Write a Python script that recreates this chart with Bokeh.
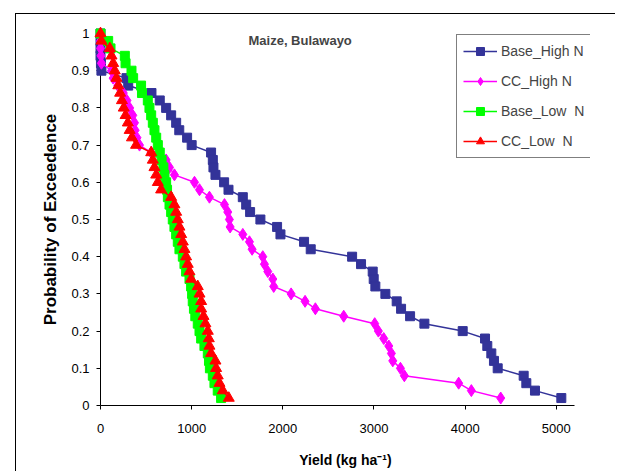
from bokeh.plotting import figure
from bokeh.models import FixedTicker, Legend, LegendItem, Label, Range1d
from bokeh.embed import file_html
from bokeh.resources import INLINE

# ---- data ----
prob = [1.00, 0.98, 0.96, 0.94, 0.92, 0.90, 0.88, 0.86, 0.84, 0.82,
        0.80, 0.78, 0.76, 0.74, 0.72, 0.70, 0.68, 0.66, 0.64, 0.62,
        0.60, 0.58, 0.56, 0.54, 0.52, 0.50, 0.48, 0.46, 0.44, 0.42,
        0.40, 0.38, 0.36, 0.34, 0.32, 0.30, 0.28, 0.26, 0.24, 0.22,
        0.20, 0.18, 0.16, 0.14, 0.12, 0.10, 0.08, 0.06, 0.04, 0.02]

base_high_n = [0, 0, 0, 0, 5, 10, 285, 304, 559, 650,
               720, 775, 830, 864, 950, 1000, 1213, 1232, 1239, 1261,
               1356, 1404, 1561, 1598, 1641, 1754, 1937, 1974, 2233, 2306,
               2760, 2858, 2986, 2997, 3015, 3125, 3249, 3297, 3396, 3553,
               3973, 4218, 4243, 4287, 4316, 4357, 4642, 4671, 4766, 5055]

cc_high_n = [0, 0, 0, 5, 10, 121, 139, 190, 250, 290,
             320, 354, 373, 380, 400, 428, 556, 720, 757, 811,
             1031, 1086, 1195, 1360, 1396, 1414, 1422, 1561, 1634, 1663,
             1780, 1798, 1835, 1890, 1900, 2091, 2244, 2357, 2668, 3008,
             3048, 3107, 3162, 3191, 3206, 3290, 3333, 3929, 4068, 4390]

base_low_n = [0, 84, 110, 267, 275, 340, 358, 445, 455, 519,
              537, 556, 574, 592, 611, 629, 650, 670, 690, 702,
              720, 730, 739, 757, 775, 793, 811, 830, 848, 866,
              903, 921, 939, 976, 994, 1005, 1012, 1025, 1040, 1067,
              1086, 1104, 1140, 1177, 1190, 1200, 1232, 1250, 1286, 1323]

cc_low_n = [0, 10, 102, 121, 139, 157, 175, 195, 215, 235,
            255, 275, 300, 320, 345, 390, 556, 574, 592, 611,
            629, 665, 775, 811, 830, 848, 866, 885, 903, 921,
            939, 957, 976, 994, 1067, 1086, 1104, 1104, 1130, 1151,
            1177, 1188, 1195, 1213, 1261, 1268, 1286, 1305, 1341, 1407]

series_names = ["Base_High N", "CC_High N", "Base_Low  N", "CC_Low  N"]
series_values = [base_high_n, cc_high_n, base_low_n, cc_low_n]
series_colors = ["#333399", "#FF00FF", "#00FF00", "#FF0000"]
series_markers = ["square", "diamond", "square", "triangle"]
series_sizes = [9, 12, 9, 11]

x_ticks = [0, 1000, 2000, 3000, 4000, 5000]
x_tick_labels = ["0", "1000", "2000", "3000", "4000", "5000"]
y_ticks = [0, 0.1, 0.2, 0.3, 0.4, 0.5, 0.6, 0.7, 0.8, 0.9, 1.0]
y_tick_labels = ["0", "0.1", "0.2", "0.3", "0.4", "0.5", "0.6", "0.7", "0.8", "0.9", "1"]

title_text = "Maize, Bulawayo"
x_label = "Yield (kg ha\u207b\u00b9)"
y_label = "Probability of Exceedence"

FONT = "Liberation Sans"

p = figure(width=600, height=458, output_backend="svg", toolbar_location=None,
           x_range=Range1d(0, 5375), y_range=Range1d(0, 1),
           min_border_left=84, min_border_top=19, min_border_bottom=67,
           min_border_right=26)
# chart-area border (left and top edges visible in the reference)
p.styles = {"margin-left": "15px", "margin-top": "13px",
            "border-left": "1px solid black", "border-top": "1px solid black"}
p.outline_line_color = None
p.grid.visible = False
p.background_fill_color = "white"
p.border_fill_color = "white"

for ax in (p.xaxis[0], p.yaxis[0]):
    ax.axis_line_color = "black"
    ax.axis_line_width = 1
    ax.major_tick_line_color = "black"
    ax.minor_tick_line_color = None
    ax.major_tick_in = 0
    ax.major_tick_out = 4
    ax.major_label_text_font = FONT
    ax.major_label_text_font_size = "13px"
    ax.major_label_text_color = "black"
    ax.axis_label_text_font = FONT
    ax.axis_label_text_font_style = "bold"
    ax.axis_label_text_color = "black"

p.xaxis[0].bounds = (0, 5200)
p.xaxis[0].ticker = FixedTicker(ticks=x_ticks)
p.xaxis[0].major_label_overrides = {t: l for t, l in zip(x_ticks, x_tick_labels)}
p.xaxis[0].axis_label = x_label
p.xaxis[0].axis_label_text_font_size = "14px"
p.xaxis[0].major_label_standoff = 14
p.xaxis[0].axis_label_standoff = 16

p.yaxis[0].ticker = FixedTicker(ticks=y_ticks)
p.yaxis[0].major_label_overrides = {t: l for t, l in zip(y_ticks, y_tick_labels)}
p.yaxis[0].axis_label = y_label
p.yaxis[0].axis_label_text_font_size = "17px"
p.yaxis[0].major_label_standoff = 7
p.yaxis[0].axis_label_standoff = 8

items = []
for name, vals, col, mk, sz in zip(series_names, series_values, series_colors,
                                    series_markers, series_sizes):
    lr = p.line(vals, prob, line_color=col, line_width=1.5, level="overlay")
    sr = p.scatter(vals, prob, marker=mk, size=sz, fill_color=col, line_color=col,
                   level="overlay")
    items.append(LegendItem(label=name, renderers=[lr, sr]))

legend = Legend(items=items, location=(356, 247), margin=0, padding=6, spacing=10,
                glyph_width=34, glyph_height=20, label_height=20, label_standoff=4,
                label_text_font=FONT, label_text_font_size="14px",
                border_line_color="black", border_line_width=1,
                background_fill_color="white", background_fill_alpha=1)
p.add_layout(legend, "center")

p.add_layout(Label(x=2190, y=0.981, text=title_text, text_font=FONT,
                   text_font_size="13px", text_font_style="bold",
                   text_align="center", text_baseline="middle"))

open("out.html", "w").write(file_html(p, INLINE))
